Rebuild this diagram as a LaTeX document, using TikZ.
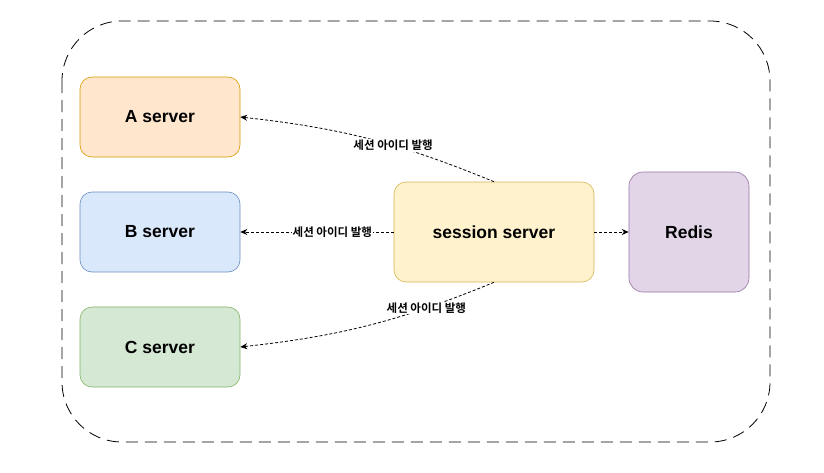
\documentclass[tikz,border=0pt]{standalone}
\usepackage{fontspec}
\setmainfont{Liberation Sans}
\newfontfamily\kr{Noto Sans CJK KR}[BoldFont={Noto Sans CJK KR Bold}]
\usetikzlibrary{arrows.meta}
\definecolor{aFill}{HTML}{FFE6CC}\definecolor{aLine}{HTML}{D79B00}
\definecolor{bFill}{HTML}{DAE8FC}\definecolor{bLine}{HTML}{6C8EBF}
\definecolor{cFill}{HTML}{D5E8D4}\definecolor{cLine}{HTML}{82B366}
\definecolor{sFill}{HTML}{FFF2CC}\definecolor{sLine}{HTML}{D6B656}
\definecolor{rFill}{HTML}{E1D5E7}\definecolor{rLine}{HTML}{9673A6}
\begin{document}
\begin{tikzpicture}[x=1pt, y=-1pt]
            \tikzstyle{box}=[rounded corners=12pt, line width=0.6pt, inner sep=0pt, font=\fontsize{17.5}{20}\selectfont\bfseries, text=black]
            \tikzstyle{server}=[box, minimum width=160pt, minimum height=80pt]
            \tikzstyle{link}=[densely dashed, line width=0.8pt, -{Stealth[length=7pt, width=6pt]}]
            \tikzstyle{tag}=[fill=white, inner sep=1pt, font=\kr\bfseries\fontsize{11.5}{13}\selectfont]

            \useasboundingbox (0,0) rectangle (824,472);
            \draw[dash pattern=on 12pt off 7pt, line width=0.8pt, rounded corners=60pt] (62,21) rectangle (770,442);

            \node[server, fill=aFill, draw=aLine] (a) at (160,117) {A server};
            \node[server, fill=bFill, draw=bLine] (b) at (160,232) {B server};
            \node[server, fill=cFill, draw=cLine] (c) at (160,347) {C server};
            \node[box, fill=sFill, draw=sLine, minimum width=200pt, minimum height=100pt] (s) at (494,232) {session server};
            \node[box, fill=rFill, draw=rLine, minimum width=120pt, minimum height=120pt, rounded corners=14pt] (r) at (689,232) {Redis};

            \draw[link] (s.north) to[bend right=8] node[tag, pos=0.4] {세션 아이디 발행} (a.east);
            \draw[link] (s.west) -- node[tag, pos=0.4] {세션 아이디 발행} (b.east);
            \draw[link] (s.south) to[bend left=8] node[tag, pos=0.26] {세션 아이디 발행} (c.east);
            \draw[link] (s.east) -- (r.west);
        \end{tikzpicture}
\end{document}
